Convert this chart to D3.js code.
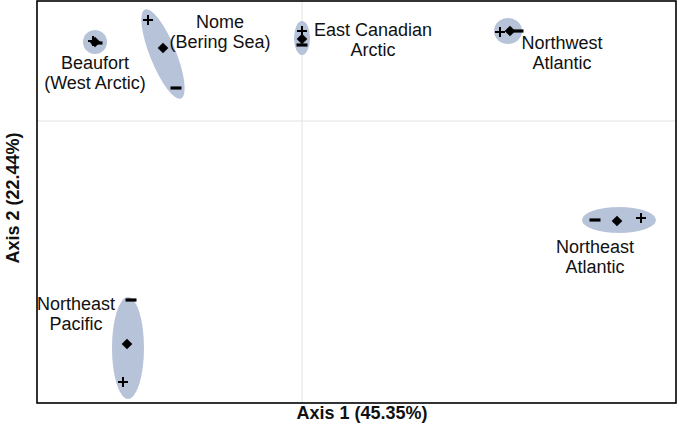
<!DOCTYPE html>
<html><head><meta charset="utf-8">
<script src="https://cdn.jsdelivr.net/npm/d3@7"></script>
<style>
html,body{margin:0;padding:0;background:#fff;}
text{font-family:"Liberation Sans",Arial,sans-serif;fill:#111;}
</style></head>
<body><svg id="c" width="677" height="428"></svg>
<script>
// ---- data (ordination scores, axis units) ----
const groups = ["Beaufort", "Nome", "East Canadian Arctic", "Northwest Atlantic", "Northeast Atlantic", "Northeast Pacific"];
const labelLines = [["Beaufort", "(West Arctic)"], ["Nome", "(Bering Sea)"], ["East Canadian", "Arctic"], ["Northwest", "Atlantic"], ["Northeast", "Atlantic"], ["Northeast", "Pacific"]];
const centroidX = [-2.07, -1.39, 0.00, 2.08, 3.15, -1.75];
const centroidY = [0.79, 0.73, 0.82, 0.90, -1.00, -2.23];
const plusX = [-2.09, -1.54, 0.00, 1.98, 3.39, -1.79];
const plusY = [0.80, 1.01, 0.90, 0.89, -0.97, -2.61];
const minusX = [-2.05, -1.26, 0.00, 2.16, 2.93, -1.71];
const minusY = [0.78, 0.33, 0.76, 0.90, -0.99, -1.79];
const ellipseX = [-2.07, -1.39, 0.00, 2.06, 3.17, -1.74];
const ellipseY = [0.79, 0.67, 0.83, 0.90, -0.99, -2.27];
const ellipseA = [0.12, 0.13, 0.08, 0.14, 0.37, 0.16];   // half-width
const ellipseB = [0.12, 0.48, 0.17, 0.13, 0.13, 0.51];   // half-height
const ellipseRot = [0, -22, 0, 0, 0, 0];                  // degrees
const labelX = [-2.07, -0.82, 0.71, 2.60, 2.93, -2.26];
const labelY = [0.52, 0.93, 0.85, 0.72, -1.32, -1.89];
const xDomain = [-2.65, 3.74];
const yDomain = [-2.82, 1.20];
const axisTitles = ["Axis 1 (45.35%)", "Axis 2 (22.44%)"];

// ---- layout ----
const svg = d3.select("#c");
const L = 37, R = 676, T = 1, B = 403;
const x = d3.scaleLinear().domain(xDomain).range([L, R]);
const y = d3.scaleLinear().domain(yDomain).range([B, T]);

// zero lines
svg.append("line").attr("x1", x(0)).attr("x2", x(0)).attr("y1", T).attr("y2", B)
  .attr("stroke", "#e2e2e2").attr("stroke-width", 1);
svg.append("line").attr("x1", L).attr("x2", R).attr("y1", y(0)).attr("y2", y(0))
  .attr("stroke", "#e2e2e2").attr("stroke-width", 1);

// ellipses
groups.forEach((g, i) => {
  const cx = x(ellipseX[i]), cy = y(ellipseY[i]);
  svg.append("ellipse")
    .attr("cx", cx).attr("cy", cy)
    .attr("rx", x(ellipseA[i]) - x(0))
    .attr("ry", y(0) - y(ellipseB[i]))
    .attr("transform", `rotate(${ellipseRot[i]},${cx},${cy})`)
    .attr("fill", "#b7c3d9");
});

// markers
groups.forEach((g, i) => {
  // plus
  const px = x(plusX[i]), py = y(plusY[i]);
  svg.append("path").attr("d", `M${px-5},${py}H${px+5}M${px},${py-5}V${py+5}`)
    .attr("stroke", "#000").attr("stroke-width", 2).attr("fill", "none");
  // minus
  const mx = x(minusX[i]), my = y(minusY[i]);
  svg.append("path").attr("d", `M${mx-5.5},${my}H${mx+5.5}`)
    .attr("stroke", "#000").attr("stroke-width", 3.2).attr("fill", "none");
  // diamond
  svg.append("path")
    .attr("transform", `translate(${x(centroidX[i])},${y(centroidY[i])})`)
    .attr("d", d3.symbol(d3.symbolDiamond2, 72)())
    .attr("fill", "#000");
});

// labels
groups.forEach((g, i) => {
  const t = svg.append("text").attr("text-anchor", "middle")
    .attr("x", x(labelX[i])).attr("y", y(labelY[i]))
    .attr("font-size", 18);
  labelLines[i].forEach((s, k) => {
    t.append("tspan").attr("x", x(labelX[i])).attr("dy", k === 0 ? 0 : 20).text(s);
  });
});

// frame
svg.append("rect").attr("x", L).attr("y", T).attr("width", R - L).attr("height", B - T)
  .attr("fill", "none").attr("stroke", "#000").attr("stroke-width", 1.6);

// axis titles
svg.append("text").attr("x", 362).attr("y", 419).attr("text-anchor", "middle")
  .attr("font-size", 18).attr("font-weight", "bold").text(axisTitles[0]);
svg.append("text").attr("transform", `translate(14,198) rotate(-90)`)
  .attr("text-anchor", "middle").attr("dominant-baseline", "middle")
  .attr("font-size", 18).attr("font-weight", "bold").text(axisTitles[1]);
</script></body></html>
